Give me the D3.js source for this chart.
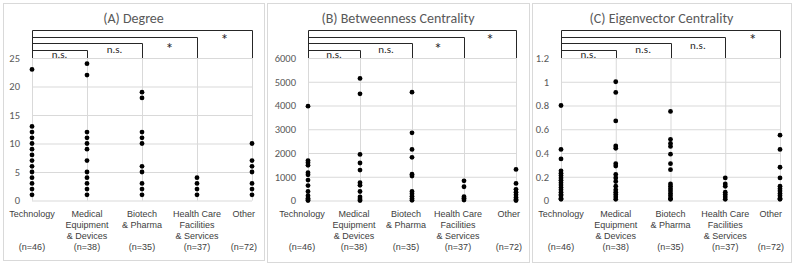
<!DOCTYPE html>
<html>
<head>
<meta charset="utf-8">
<script src="https://cdn.jsdelivr.net/npm/d3@7"></script>
<style>
  html, body { margin: 0; padding: 0; background: #fff; }
  svg { display: block; }
</style>
</head>
<body>
<svg id="chart" width="794" height="265"></svg>
<script>
// ---------------- DATA ----------------
const categories = ["Technology", "Medical Equipment & Devices", "Biotech & Pharma", "Health Care Facilities & Services", "Other"];
const categoryLines = [["Technology"], ["Medical", "Equipment", "& Devices"], ["Biotech", "& Pharma"], ["Health Care", "Facilities", "& Services"], ["Other"]];
const sampleSizes = [46, 38, 35, 37, 72];

const panelTitles = ["(A) Degree", "(B) Betweenness Centrality", "(C) Eigenvector Centrality"];

const degreeTicks = [0, 5, 10, 15, 20, 25];
const betweennessTicks = [0, 1000, 2000, 3000, 4000, 5000, 6000];
const eigenvectorTicks = [0, 0.2, 0.4, 0.6, 0.8, 1, 1.2];

const degreeValues = [
  [1, 2, 3, 4, 5, 6, 7, 8, 9, 10, 11, 12, 13, 23],
  [1, 2, 3, 4, 5, 7, 9, 10, 11, 12, 22, 24],
  [1, 2, 3, 5, 6, 10, 11, 12, 18, 19],
  [1, 2, 3, 4],
  [1, 2, 3, 5, 6, 7, 10]
];
const betweennessValues = [
  [3970, 1680, 1590, 1480, 1170, 1080, 860, 630, 380, 200, 100, 30, 0],
  [5140, 4490, 1940, 1580, 1280, 750, 640, 380, 150, 60, 0],
  [4560, 2850, 2150, 1820, 1110, 1030, 380, 280, 180, 80, 10],
  [830, 580, 160, 90, 20],
  [1310, 720, 470, 350, 240, 130, 40, 0]
];
const eigenvectorValues = [
  [0.80, 0.43, 0.35, 0.25, 0.23, 0.21, 0.19, 0.17, 0.15, 0.13, 0.11, 0.09, 0.07, 0.05, 0.04, 0.02, 0.01],
  [1.00, 0.91, 0.67, 0.46, 0.44, 0.31, 0.29, 0.22, 0.19, 0.16, 0.12, 0.09, 0.07, 0.05, 0.03, 0.01],
  [0.75, 0.515, 0.48, 0.455, 0.39, 0.31, 0.26, 0.14, 0.12, 0.10, 0.08, 0.06, 0.04, 0.02, 0.01],
  [0.19, 0.14, 0.12, 0.07, 0.05, 0.03, 0.01],
  [0.55, 0.43, 0.28, 0.19, 0.12, 0.10, 0.08, 0.06, 0.04, 0.02, 0.01]
];

const degreeSignificance = ["n.s.", "n.s.", "*", "*"];
const betweennessSignificance = ["n.s.", "n.s.", "*", "*"];
const eigenvectorSignificance = ["n.s.", "n.s.", "n.s.", "*"];

// ---------------- LAYOUT ----------------
const panels = [
  { title: panelTitles[0], ticks: degreeTicks, values: degreeValues, sig: degreeSignificance,
    box: [3, 3, 264, 260], plotL: 32, plotR: 252, labelShift: 0, fmt: d => d },
  { title: panelTitles[1], ticks: betweennessTicks, values: betweennessValues, sig: betweennessSignificance,
    box: [267, 3, 529, 262], plotL: 308, plotR: 516, labelShift: -6, fmt: d => d },
  { title: panelTitles[2], ticks: eigenvectorTicks, values: eigenvectorValues, sig: eigenvectorSignificance,
    box: [532, 3, 791, 262], plotL: 561, plotR: 780, labelShift: 0, fmt: d => d3.format("~g")(d) }
];
const plotTop = 58, plotBottom = 200.5;
const bracketRise = [8.5, 14.7, 21.5, 28];
const sigBaselineOffset = { "n.s.": [7, 9, 11.5, 9.5], "*": [16, 16, 16, 14] };

const latinFont = "Carlito, 'Liberation Sans Narrow', Lato, sans-serif";
const labelFont = "'Liberation Sans', Arial, sans-serif";

const svg = d3.select("#chart");

panels.forEach(p => {
  const g = svg.append("g");
  const [bx0, by0, bx1, by1] = p.box;
  g.append("rect")
    .attr("x", bx0 + 0.5).attr("y", by0 + 0.5)
    .attr("width", bx1 - bx0).attr("height", by1 - by0)
    .attr("fill", "#fff").attr("stroke", "#d9d9d9").attr("stroke-width", 1);

  const x = d3.scalePoint().domain(categories).range([p.plotL, p.plotR]);
  const y = d3.scaleLinear().domain([0, d3.max(p.ticks)]).range([plotBottom, plotTop]);

  // horizontal gridlines
  const yGrid = d3.axisLeft(y).tickValues(p.ticks).tickSize(-(p.plotR - p.plotL)).tickFormat("");
  g.append("g").attr("transform", `translate(${p.plotL},0)`).call(yGrid)
    .call(s => s.select(".domain").remove())
    .call(s => s.selectAll("line").attr("stroke", "#d9d9d9"));

  // vertical gridlines
  const xGrid = d3.axisBottom(x).tickSize(-(plotBottom - plotTop)).tickFormat("");
  g.append("g").attr("transform", `translate(0,${plotBottom})`).call(xGrid)
    .call(s => s.select(".domain").remove())
    .call(s => s.selectAll("line").attr("stroke", "#d9d9d9"));

  // y tick labels
  const yAxis = d3.axisLeft(y).tickValues(p.ticks).tickSize(0).tickPadding(12).tickFormat(p.fmt);
  g.append("g").attr("transform", `translate(${p.plotL},0)`).call(yAxis)
    .call(s => s.select(".domain").remove())
    .call(s => s.selectAll("text")
      .attr("font-family", latinFont).attr("font-size", 10.5).attr("fill", "#595959"));

  // title
  g.append("text")
    .attr("x", (bx0 + bx1) / 2).attr("y", 22.5)
    .attr("text-anchor", "middle")
    .attr("font-family", latinFont).attr("font-size", 14).attr("fill", "#595959")
    .text(p.title);

  // category labels (one text element per line)
  categories.forEach((c, i) => {
    const allLines = categoryLines[i].map((l, j) => ({ text: l, row: j }));
    allLines.push({ text: `(n=${sampleSizes[i]})`, row: 3 });
    const lg = g.append("g");
    const texts = lg.selectAll("text").data(allLines).join("text")
      .attr("font-family", labelFont).attr("font-size", 9).attr("fill", "#404040")
      .attr("text-anchor", "middle")
      .attr("x", x(c) + p.labelShift).attr("y", d => 216.5 + d.row * 11)
      .text(d => d.text);
    // keep label inside panel
    const bb = lg.node().getBBox();
    const maxRight = bx1 - 7;
    if (bb.x + bb.width > maxRight) {
      const shift = bb.x + bb.width - maxRight;
      texts.attr("x", x(c) + p.labelShift - shift);
    }
  });

  // dots
  p.values.forEach((vals, i) => {
    g.append("g").selectAll("circle").data(vals).join("circle")
      .attr("cx", x(categories[i])).attr("cy", d => y(d))
      .attr("r", 2.4).attr("fill", "#000");
  });

  // significance brackets
  const x0 = Math.round(x(categories[0])) + 0.5;
  p.sig.forEach((label, k) => {
    const endCat = categories[k + 1];
    const xe = Math.round(x(endCat)) + 0.5;
    const yb = Math.round(plotTop - bracketRise[k]) + 0.5;
    g.append("path")
      .attr("d", `M${x0},${plotTop}V${yb}H${xe}V${plotTop}`)
      .attr("fill", "none").attr("stroke", "#262626").attr("stroke-width", 1);
    const mx = (x(categories[k]) + x(endCat)) / 2;
    g.append("text")
      .attr("x", mx).attr("y", yb + sigBaselineOffset[label][k])
      .attr("text-anchor", "middle")
      .attr("font-family", latinFont).attr("font-size", label === "*" ? 16 : 11)
      .attr("fill", "#262626")
      .text(label);
  });
});
</script>
</body>
</html>
